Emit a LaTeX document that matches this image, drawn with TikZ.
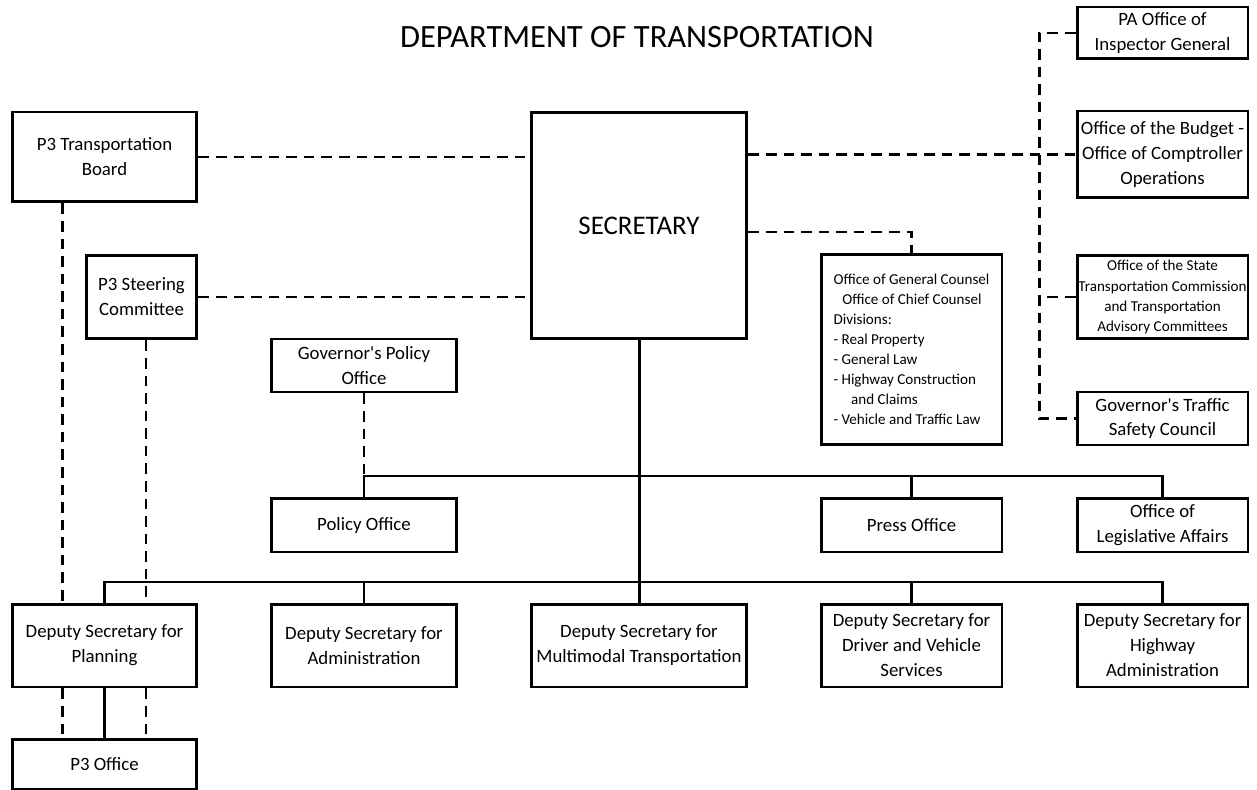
\documentclass[tikz,border=0pt]{standalone}
\usepackage{fontspec}
\setmainfont{Carlito}[Ligatures = TeXOff]
\newcommand\bodyfont{\fontsize{10.7}{14.2}\selectfont}
\newcommand\smallbodyfont{\fontsize{8.6}{11.4}\selectfont}

\begin{document}
\begin{tikzpicture}[x = 0.02cm, y = -0.02cm,
        box/.style 2 args = {draw, line width = 1.7pt, minimum width = #1cm, minimum height = #2cm, inner sep = 0pt, align = center, font = \bodyfont},
        solidlink/.style = {line width = 1.7pt},
        dashlink/.style = {line width = 1.7pt, dash pattern = on 6pt off 4pt}]
    \useasboundingbox (0, 0) rectangle (1257, 790);
    \node (title) at (637, 37) {\fontsize{18.5}{22}\selectfont DEPARTMENT OF TRANSPORTATION};

    % secretary and advisory boards
    \node[box = {4.32}{4.54}, font = \fontsize{15.3}{18}\selectfont] (sec) at (639, 225.5) {SECRETARY};
    \node[box = {3.70}{1.80}] (board) at (104.5, 157) {P3 Transportation\\Board};
    \node[box = {2.22}{1.68}] (steering) at (141.5, 297) {P3 Steering\\Committee};
    \node[box = {3.72}{1.06}] (govpol) at (364, 365.5) {Governor's Policy\\Office};
    \node[box = {3.62}{3.82}, align = left, font = \smallbodyfont] (counsel) at (911.5, 349.5)
        {Office of General Counsel\\\hspace*{5pt}Office of Chief Counsel\\Divisions:\\- Real Property\\- General Law\\- Highway Construction\\\hspace*{10pt}and Claims\\- Vehicle and Traffic Law};

    % right column
    \node[box = {3.42}{1.04}] (pa) at (1162.5, 33) {PA Office of\\Inspector General};
    \node[box = {3.42}{1.74}] (budget) at (1162.5, 154.5) {Office of the Budget -\\Office of Comptroller\\Operations};
    \node[box = {3.42}{1.68}, font = \smallbodyfont] (commission) at (1162.5, 297) {Office of the State\\Transportation Commission\\and Transportation\\Advisory Committees};
    \node[box = {3.42}{1.06}] (traffic) at (1162.5, 418.5) {Governor's Traffic\\Safety Council};

    % offices
    \node[box = {3.72}{1.08}] (policy) at (364, 525) {Policy Office};
    \node[box = {3.62}{1.08}] (press) at (911.5, 525) {Press Office};
    \node[box = {3.42}{1.08}] (legis) at (1162.5, 525) {Office of\\Legislative Affairs};

    % deputy secretaries
    \node[box = {3.70}{1.66}] (planning) at (104.5, 645.5) {Deputy Secretary for\\Planning};
    \node[box = {3.72}{1.66}] (admin) at (364, 645.5) {Deputy Secretary for\\Administration};
    \node[box = {4.32}{1.66}] (multimodal) at (639, 645.5) {Deputy Secretary for\\Multimodal Transportation};
    \node[box = {3.62}{1.66}] (driver) at (911.5, 645.5) {Deputy Secretary for\\Driver and Vehicle\\Services};
    \node[box = {3.42}{1.66}] (highway) at (1162.5, 645.5) {Deputy Secretary for\\Highway\\Administration};
    \node[box = {3.70}{1.00}] (p3office) at (104.5, 764) {P3 Office};

    \coordinate (bus1) at (0, 476);
    \coordinate (bus2) at (0, 582);
    \coordinate (spine) at (1039, 0);
    \coordinate (boardline) at (62.5, 0);
    \coordinate (steerline) at (146, 0);

    % solid reporting lines
    \draw[solidlink] (sec.south) -- (sec.south |- bus2);
    \draw[solidlink] (policy.north) -- (policy.north |- bus1) -- (legis.north |- bus1) -- (legis.north);
    \draw[solidlink] (press.north) -- (press.north |- bus1);
    \draw[solidlink] (planning.north) -- (planning.north |- bus2) -- (highway.north |- bus2) -- (highway.north);
    \foreach \dep in {admin, multimodal, driver}
        \draw[solidlink] (\dep.north) -- (\dep.north |- bus2);
    \draw[solidlink] (planning.south) -- (p3office.north);

    % dashed advisory lines
    \draw[dashlink] (board.east) -- (board.east -| sec.west);
    \draw[dashlink] (steering.east) -- (steering.east -| sec.west);
    \draw[dashlink] (govpol.south) -- (govpol.south |- bus1);
    \draw[dashlink] ([yshift = -0.13cm]sec.east) -| (counsel.north);
    \draw[dashlink] (budget.west -| sec.east) -- (budget.west);
    \draw[dashlink] (pa.west) -| (traffic.west -| spine) -- (traffic.west);
    \draw[dashlink] (commission.west) -- (commission.west -| spine);
    \draw[dashlink] (board.south -| boardline) -- (planning.north -| boardline);
    \draw[dashlink] (planning.south -| boardline) -- (p3office.north -| boardline);
    \draw[dashlink] (steering.south -| steerline) -- (planning.north -| steerline);
    \draw[dashlink] (planning.south -| steerline) -- (p3office.north -| steerline);
\end{tikzpicture}
\end{document}
